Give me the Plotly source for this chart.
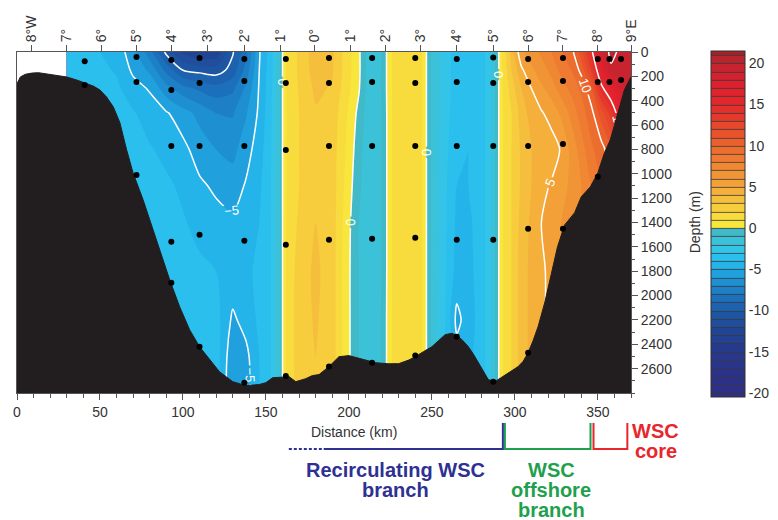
import numpy as np
import plotly.graph_objects as go

# ---------------------------------------------------------------------------
# Velocity section (cm/s) on a distance x depth grid
# ---------------------------------------------------------------------------
grid_km = [30, 45, 60, 70, 80, 90, 100, 110, 120, 130, 138, 146, 153, 159, 161,
           170, 180, 190, 198, 206, 212, 218, 226, 236, 244, 250, 258, 265, 272,
           280, 286, 292, 298, 304, 310, 316, 322, 328, 334, 340, 346, 352, 358,
           364, 370]
grid_depth = [0, 150, 300, 500, 800, 1100, 1400, 1800, 2200, 2500, 2800]

# one vertical profile per grid_km column, top to bottom
speed_profiles = [
    [-3.4, -3.3, -3.1, -3.0, -3.0, -3.0, -3.0, -3.0, -3.0, -3.0, -3.0],
    [-3.8, -3.6, -3.4, -3.2, -3.0, -3.0, -3.0, -3.0, -3.0, -3.0, -3.0],
    [-4.4, -4.1, -3.8, -3.4, -3.1, -2.9, -2.8, -2.8, -2.8, -2.8, -2.8],
    [-5.6, -5.2, -4.6, -3.9, -3.4, -3.1, -2.9, -2.8, -2.8, -2.8, -2.8],
    [-7.6, -6.2, -5.1, -4.5, -3.9, -3.5, -3.2, -3.0, -2.8, -2.8, -2.8],
    [-10.3, -8.3, -6.6, -4.9, -4.3, -3.8, -3.5, -3.3, -3.0, -3.0, -3.0],
    [-12.2, -10.0, -7.6, -5.6, -4.7, -4.2, -3.9, -3.6, -3.3, -3.2, -3.2],
    [-13.0, -10.3, -8.2, -6.3, -5.5, -4.8, -4.3, -3.8, -3.5, -3.4, -3.4],
    [-12.8, -10.5, -8.6, -7.0, -6.0, -5.2, -4.6, -4.0, -3.6, -3.5, -3.5],
    [-10.1, -9.6, -8.2, -7.1, -6.3, -5.5, -4.8, -4.3, -5.2, -5.8, -6.0],
    [-8.3, -7.6, -6.8, -6.1, -5.4, -4.9, -4.5, -4.2, -4.6, -5.3, -5.5],
    [-5.1, -5.0, -4.9, -4.8, -4.5, -4.2, -4.0, -3.8, -3.8, -4.0, -4.0],
    [-3.5, -3.4, -3.3, -3.2, -3.1, -3.0, -3.0, -3.0, -3.0, -3.0, -3.0],
    [-0.8, -0.8, -0.8, -0.8, -0.8, -0.8, -0.8, -0.8, -0.8, -0.8, -0.8],
    [0.8, 0.8, 0.8, 0.8, 0.8, 0.8, 0.8, 0.8, 0.8, 0.8, 0.8],
    [2.2, 2.2, 2.1, 2.0, 2.0, 2.0, 2.2, 2.5, 2.6, 2.6, 2.6],
    [3.6, 3.5, 3.2, 2.9, 2.8, 2.8, 3.0, 3.2, 3.1, 3.0, 3.0],
    [3.2, 3.1, 2.9, 2.6, 2.5, 2.5, 2.5, 2.5, 2.5, 2.5, 2.5],
    [1.6, 1.6, 1.5, 1.2, 1.0, 0.8, 0.6, 0.5, 0.5, 0.5, 0.5],
    [0.2, 0.2, 0.1, -0.3, -0.6, -0.8, -1.0, -1.0, -1.0, -1.0, -1.0],
    [-1.5, -1.5, -1.5, -1.6, -1.8, -1.8, -1.8, -1.8, -1.8, -1.8, -1.8],
    [-1.4, -1.4, -1.4, -1.5, -1.5, -1.5, -1.5, -1.5, -1.4, -1.4, -1.4],
    [1.0, 1.0, 1.0, 1.0, 1.0, 1.0, 1.0, 1.0, 1.0, 1.0, 1.0],
    [1.6, 1.6, 1.6, 1.6, 1.6, 1.6, 1.6, 1.6, 1.6, 1.6, 1.6],
    [1.0, 1.0, 1.0, 1.0, 1.0, 1.0, 1.0, 1.0, 1.0, 1.0, 1.0],
    [-1.2, -1.2, -1.2, -1.2, -1.2, -1.2, -1.2, -1.2, -1.2, -1.2, -1.2],
    [-2.5, -2.5, -2.5, -2.6, -2.7, -2.8, -2.8, -2.9, -3.0, -3.0, -3.0],
    [-3.5, -3.5, -3.5, -3.6, -3.8, -4.0, -4.2, -4.4, -5.3, -4.5, -4.5],
    [-4.0, -4.0, -4.0, -4.0, -4.0, -4.0, -4.2, -4.3, -4.5, -4.3, -4.3],
    [-3.5, -3.5, -3.5, -3.5, -3.5, -3.5, -3.5, -3.5, -3.5, -3.5, -3.5],
    [-2.0, -2.0, -2.0, -2.0, -2.0, -2.0, -2.0, -2.0, -2.0, -2.0, -2.0],
    [0.8, 0.8, 0.8, 0.8, 0.8, 0.8, 0.8, 0.8, 0.8, 0.8, 0.8],
    [3.5, 3.0, 2.5, 2.0, 2.0, 2.0, 2.0, 2.0, 2.0, 2.0, 2.0],
    [5.8, 4.8, 4.0, 3.5, 3.2, 3.2, 3.4, 3.5, 3.5, 3.5, 3.5],
    [6.5, 5.8, 5.0, 4.4, 4.0, 4.0, 4.2, 4.3, 4.3, 4.3, 4.3],
    [7.2, 6.5, 5.8, 4.9, 4.5, 4.7, 5.0, 4.8, 4.8, 4.8, 4.8],
    [8.0, 7.3, 6.5, 5.4, 4.5, 5.1, 5.5, 5.3, 5.3, 5.3, 5.3],
    [9.0, 8.3, 7.5, 6.2, 5.1, 5.5, 6.0, 6.0, 6.0, 6.0, 6.0],
    [9.6, 9.0, 8.3, 7.3, 6.3, 6.3, 6.5, 6.5, 6.5, 6.5, 6.5],
    [11.5, 10.3, 9.2, 8.5, 7.5, 7.0, 7.0, 7.0, 7.0, 7.0, 7.0],
    [14.5, 13.0, 10.8, 9.6, 8.8, 8.0, 7.5, 7.5, 7.5, 7.5, 7.5],
    [18.5, 16.5, 14.5, 11.5, 9.5, 9.0, 8.0, 8.0, 8.0, 8.0, 8.0],
    [20.5, 19.7, 16.5, 13.5, 10.8, 10.0, 9.0, 9.0, 9.0, 9.0, 9.0],
    [19.6, 19.4, 18.5, 16.5, 14.0, 12.0, 10.0, 10.0, 10.0, 10.0, 10.0],
    [19.8, 19.5, 19.5, 18.0, 15.0, 13.0, 11.0, 11.0, 11.0, 11.0, 11.0],
]
speed = np.array(speed_profiles).T  # rows = depth, columns = distance

# ---------------------------------------------------------------------------
# Bottom topography along the section
# ---------------------------------------------------------------------------
bathy_km = [0, 2, 5, 9, 13, 18, 24, 30, 36, 41, 46, 50, 54, 58, 62, 66, 70,
            76, 80, 86, 92, 98, 104, 110, 116, 122, 130, 138, 146, 150, 154,
            160, 164, 168, 174, 178, 182, 188, 194, 200, 205, 210, 216, 224,
            230, 236, 240, 245, 250, 254, 258, 262, 264, 268, 272, 275, 278,
            281, 284, 288, 291, 294, 298, 302, 305, 308, 311, 314, 318, 321.5,
            325.7, 330, 336, 340, 345.5, 350, 354, 357.5, 362, 366, 370]
bathy_depth = [260, 205, 183, 173, 170, 180, 192, 205, 230, 254, 280, 312, 370,
               450, 580, 800, 995, 1214, 1380, 1624, 1870, 2091, 2280, 2420,
               2526, 2625, 2707, 2740, 2730, 2715, 2675, 2666, 2666, 2707, 2682,
               2657, 2649, 2583, 2502, 2493, 2510, 2526, 2551, 2560, 2559, 2530,
               2502, 2460, 2420, 2370, 2321, 2310, 2321, 2360, 2420, 2480, 2551,
               2630, 2690, 2707, 2680, 2649, 2620, 2583, 2540, 2469, 2370, 2255,
               2059, 1845, 1600, 1420, 1320, 1189, 1107, 993, 828, 722, 500, 312,
               205]

# ---------------------------------------------------------------------------
# Measurement positions
# ---------------------------------------------------------------------------
dot_km = ([40.8] * 2 + [72] * 3 + [93] * 5 + [110] * 5 + [137] * 5 + [162] * 5 +
          [188] * 5 + [214] * 5 + [240] * 5 + [265] * 5 + [287] * 5 + [308] * 5 +
          [329] * 4 + [350] * 3 + [357] * 2 + [364] * 2)
dot_depth = [75, 270,
             41, 246, 1009,
             66, 312, 771, 1558, 1895,
             49, 254, 771, 1501, 2420,
             57, 238, 771, 1550, 2715,
             57, 254, 804, 1583, 2660,
             49, 254, 771, 1542, 2583,
             49, 246, 771, 1534, 2551,
             49, 254, 771, 1526, 2493,
             58, 246, 771, 1542, 2338,
             45, 254, 771, 1542, 2707,
             58, 246, 771, 1452, 2469,
             49, 238, 755, 1452,
             57, 246, 1025,
             57, 246,
             57, 230]

# ---------------------------------------------------------------------------
# Axis ticks and labels
# ---------------------------------------------------------------------------
lon_km = [9, 30, 51, 72, 93, 115, 137, 159, 179, 201, 222, 243, 265, 287, 308,
          329, 350, 370]
lon_labels = ["8°W", "7°", "6°", "5°", "4°", "3°", "2°", "1°", "0°", "1°", "2°",
              "3°", "4°", "5°", "6°", "7°", "8°", "9°E"]
depth_ticks = list(range(0, 2601, 200))
cbar_ticks = [-20, -15, -10, -5, 0, 5, 10, 15, 20]
cbar_labels = [str(v) for v in cbar_ticks]

# Current branches marked under the distance axis
branch_start_km = [184.8, 294.0, 347.4]
branch_end_km = [292.8, 345.6, 367.8]
branch_lead_km = 163.8  # dashed lead-in of the recirculating branch
branch_colors = ["#2e3192", "#1fa04d", "#e8262c"]

X_MAX = 370
DEPTH_MAX = 2800

# ---------------------------------------------------------------------------
# Banded colour scale (1 cm/s levels, sharp break at zero)
# ---------------------------------------------------------------------------
LEV_START, LEV_END, LEV_STEP = -20, 21, 1
c_lo, c_hi = LEV_START - LEV_STEP / 2, LEV_END + LEV_STEP / 2
anchors = [
    (-20.5, "#302d84"), (-17.5, "#2b3289"), (-14.5, "#263a8d"),
    (-12.5, "#214595"), (-10.5, "#1e55a2"), (-8.5, "#1c6fba"),
    (-6.5, "#1e8fd1"), (-5.5, "#20a0dd"), (-4.5, "#25b4e9"),
    (-3.5, "#2bbfee"), (-2.5, "#33c4e8"), (-1.5, "#3bc1d8"),
    (-0.5, "#41b9c7"),
    (0.5, "#f9e63c"), (1.5, "#f8db3c"), (2.5, "#f7cd3d"), (3.5, "#f5bf3d"),
    (4.5, "#f4b03b"), (5.5, "#f2a037"), (7.5, "#ef8733"), (9.5, "#ec6e2f"),
    (11.5, "#e8532b"), (13.5, "#e53a2b"), (15.5, "#e3262c"),
    (17.5, "#de1f2e"), (19.5, "#c82430"), (20.5, "#b8252f"), (21.5, "#a3232a"),
]
colorscale = [[(v - c_lo) / (c_hi - c_lo), c] for v, c in anchors]
levels = dict(start=LEV_START, end=LEV_END, size=LEV_STEP)

FONT = "Liberation Sans, Arial, sans-serif"
SMOOTH = 0.8

fig = go.Figure()

# colour bar carrier: same banding, with separators, data outside the view
fig.add_trace(go.Contour(
    x=[X_MAX + 100, X_MAX + 110], y=[DEPTH_MAX + 100, DEPTH_MAX + 200],
    z=[[LEV_START, LEV_END], [LEV_START, LEV_END]],
    autocontour=False, contours=dict(**levels, coloring="fill", showlines=True),
    colorscale=colorscale, line=dict(color="#3a3a3a", width=0.8),
    hoverinfo="skip",
    colorbar=dict(
        x=(713 - 17) / 616, xanchor="left", xpad=0,
        y=0.4956, yanchor="middle", ypad=0,
        lenmode="pixels", len=346, thickness=34,
        outlinecolor="#333", outlinewidth=1,
        tickmode="array", tickvals=cbar_ticks, ticktext=cbar_labels, ticks="",
        tickfont=dict(family=FONT, size=14, color="#333"),
    ),
))

# filled velocity field
fig.add_trace(go.Contour(
    x=grid_km, y=grid_depth, z=speed,
    autocontour=False, contours=dict(**levels, coloring="fill", showlines=False),
    colorscale=colorscale, line=dict(width=0, smoothing=SMOOTH),
    showscale=False, hoverinfo="skip",
))

# labelled isotachs
fig.add_trace(go.Contour(
    x=grid_km, y=grid_depth, z=speed,
    autocontour=False,
    contours=dict(start=-10, end=20, size=5, coloring="none", showlabels=True,
                  labelfont=dict(family=FONT, size=13, color="white")),
    line=dict(color="white", width=1.5, smoothing=SMOOTH),
    showscale=False, hoverinfo="skip",
))

# sea floor
fig.add_trace(go.Scatter(
    x=bathy_km + [X_MAX, bathy_km[0]],
    y=bathy_depth + [DEPTH_MAX, DEPTH_MAX],
    mode="lines", fill="toself", fillcolor="#221e1f",
    line=dict(color="#221e1f", width=1), hoverinfo="skip",
))

# station measurements
fig.add_trace(go.Scatter(
    x=dot_km, y=dot_depth, mode="markers", xaxis="x2",
    marker=dict(color="black", size=6), hoverinfo="skip",
))

axis_common = dict(showgrid=False, zeroline=False, linecolor="#555",
                   linewidth=1, tickcolor="#555",
                   tickfont=dict(family=FONT, size=14, color="#333"))

fig.update_layout(
    width=778, height=520,
    margin=dict(l=17, r=145, t=52, b=127),
    paper_bgcolor="white", plot_bgcolor="white",
    showlegend=False,
    xaxis=dict(**axis_common, range=[0, X_MAX], showline=True, mirror=True,
               tick0=0, dtick=50, ticks="outside", ticklen=6,
               minor=dict(dtick=10, ticks="outside", ticklen=4,
                          tickcolor="#555")),
    xaxis2=dict(**axis_common, range=[0, X_MAX], overlaying="x", side="top",
                anchor="y", showline=False, tickmode="array",
                tickvals=lon_km, ticktext=lon_labels, tickangle=-90,
                ticks="outside", ticklen=6),
    yaxis=dict(**axis_common, range=[DEPTH_MAX, 0], side="right",
               showline=True, mirror=True, tickmode="array",
               tickvals=depth_ticks, ticks="outside", ticklen=6,
               minor=dict(tickmode="linear", tick0=0, dtick=100,
                          ticks="outside", ticklen=3, tickcolor="#555")),
)

annotations = [
    dict(text="Distance (km)", x=0.5487, y=-0.1144,
         font=dict(family=FONT, size=14, color="#333")),
    dict(text="Depth (m)", x=1.1039, y=0.5, textangle=-90,
         font=dict(family=FONT, size=14, color="#333")),
]
branch_text = [
    (0.6169, ["Recirculating WSC", "branch"], -0.2258, branch_colors[0]),
    (0.8701, ["WSC", "offshore", "branch"], -0.2258, branch_colors[1]),
    (1.0406, ["WSC", "core"], -0.1114, branch_colors[2]),
]
for bx, lines, y0, col in branch_text:
    for i, line in enumerate(lines):
        annotations.append(dict(
            text=line, x=bx, y=y0 - i * 0.0587,
            font=dict(family=FONT, size=20, color=col, weight="bold")))
for a in annotations:
    a.update(xref="paper", yref="paper", showarrow=False,
             xanchor="center", yanchor="middle")
fig.update_layout(annotations=annotations)

# branch brackets below the axis
y_base, y_top = -0.1642, -0.088
shapes = [dict(type="line", xref="x", yref="paper", x0=branch_lead_km,
               x1=branch_start_km[0], y0=y_base, y1=y_base,
               line=dict(color=branch_colors[0], width=2, dash="3px,2px"))]
shapes.append(dict(type="path", xref="x", yref="paper",
                   path=f"M{branch_start_km[0]},{y_base} L{branch_end_km[0]},{y_base} "
                        f"L{branch_end_km[0]},{y_top}",
                   line=dict(color=branch_colors[0], width=2)))
for k in (1, 2):
    shapes.append(dict(type="path", xref="x", yref="paper",
                       path=f"M{branch_start_km[k]},{y_top} L{branch_start_km[k]},{y_base} "
                            f"L{branch_end_km[k]},{y_base} L{branch_end_km[k]},{y_top}",
                       line=dict(color=branch_colors[k], width=2)))
fig.update_layout(shapes=shapes)

fig.write_html("out.html")
